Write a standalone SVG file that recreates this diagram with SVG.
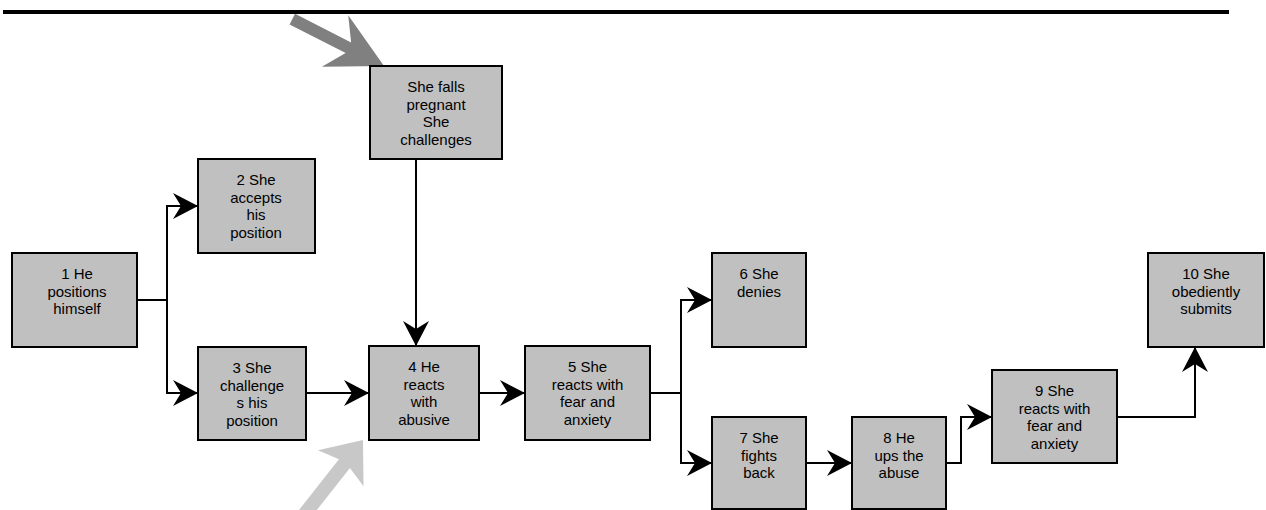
<svg xmlns="http://www.w3.org/2000/svg" width="1266" height="510" viewBox="0 0 1266 510">
<style>
.box{fill:#c0c0c0;stroke:#000;stroke-width:2}
.t{font-family:"Liberation Sans",Arial,sans-serif;font-size:15px;fill:#000;text-anchor:middle}
.c{fill:none;stroke:#000;stroke-width:2;marker-end:url(#ah)}
.cn{fill:none;stroke:#000;stroke-width:2}
</style>
<defs>
<marker id="ah" markerUnits="userSpaceOnUse" markerWidth="26" markerHeight="26" viewBox="0 0 26 26" refX="25" refY="13" orient="auto">
<path d="M25,13 L0,0 L8,13 L0,26 Z" fill="#000"/>
</marker>
</defs>
<rect width="1266" height="510" fill="#fff"/>
<line x1="3" y1="12" x2="1229" y2="12" stroke="#000" stroke-width="4"/>
<g id="pointer-dark">
<polygon points="0,0 -55,-29 -40,-6 -103,-6 -103,6 -40,6 -55,29" fill="#808080" transform="translate(384,66) rotate(27.1)"/>
</g>
<g id="pointer-light">
<polygon points="0,0 -36,-29 -30,-7 -110,-7 -110,7 -30,7 -36,29" fill="#c8c8c8" transform="translate(363,440) rotate(-51.8)"/>
</g>
<g id="connectors">
<polyline class="cn" points="137,300 167,300"/>
<polyline class="c" points="167,300 167,206 198,206"/>
<polyline class="c" points="167,300 167,393 198,393"/>
<polyline class="c" points="306,393 369,393"/>
<polyline class="c" points="416,159 416,346"/>
<polyline class="c" points="479,393 525,393"/>
<polyline class="cn" points="650,393 681,393"/>
<polyline class="c" points="681,393 681,300 712,300"/>
<polyline class="c" points="681,393 681,463 712,463"/>
<polyline class="c" points="806,463 852,463"/>
<polyline class="c" points="946,463 961,463 961,417 992,417"/>
<polyline class="c" points="1117,417 1195,417 1195,347"/>
</g>
<g id="n1"><rect class="box" x="12" y="253" width="125" height="94"/>
<text class="t" x="77" y="279">1 He</text><text class="t" x="77" y="296.7">positions</text><text class="t" x="77" y="314.4">himself</text></g>
<g id="n2"><rect class="box" x="198" y="159" width="117" height="94"/>
<text class="t" x="256" y="185">2 She</text><text class="t" x="256" y="202.7">accepts</text><text class="t" x="256" y="220.4">his</text><text class="t" x="256" y="238.1">position</text></g>
<g id="n3"><rect class="box" x="198" y="347" width="108" height="93"/>
<text class="t" x="252" y="373">3 She</text><text class="t" x="252" y="390.7">challenge</text><text class="t" x="252" y="408.4">s his</text><text class="t" x="252" y="426.1">position</text></g>
<g id="np"><rect class="box" x="370" y="66" width="132" height="93"/>
<text class="t" x="436" y="92">She falls</text><text class="t" x="436" y="109.7">pregnant</text><text class="t" x="436" y="127.4">She</text><text class="t" x="436" y="145.1">challenges</text></g>
<g id="n4"><rect class="box" x="369" y="346" width="110" height="94"/>
<text class="t" x="424" y="372">4 He</text><text class="t" x="424" y="389.7">reacts</text><text class="t" x="424" y="407.4">with</text><text class="t" x="424" y="425.1">abusive</text></g>
<g id="n5"><rect class="box" x="525" y="346" width="125" height="94"/>
<text class="t" x="587.5" y="372">5 She</text><text class="t" x="587.5" y="389.7">reacts with</text><text class="t" x="587.5" y="407.4">fear and</text><text class="t" x="587.5" y="425.1">anxiety</text></g>
<g id="n6"><rect class="box" x="712" y="253" width="94" height="94"/>
<text class="t" x="759" y="279">6 She</text><text class="t" x="759" y="296.7">denies</text></g>
<g id="n7"><rect class="box" x="712" y="417" width="94" height="92"/>
<text class="t" x="759" y="443">7 She</text><text class="t" x="759" y="460.7">fights</text><text class="t" x="759" y="478.4">back</text></g>
<g id="n8"><rect class="box" x="852" y="417" width="94" height="92"/>
<text class="t" x="899" y="443">8 He</text><text class="t" x="899" y="460.7">ups the</text><text class="t" x="899" y="478.4">abuse</text></g>
<g id="n9"><rect class="box" x="992" y="370" width="125" height="93"/>
<text class="t" x="1054.5" y="396">9 She</text><text class="t" x="1054.5" y="413.7">reacts with</text><text class="t" x="1054.5" y="431.4">fear and</text><text class="t" x="1054.5" y="449.1">anxiety</text></g>
<g id="n10"><rect class="box" x="1148" y="253" width="116" height="94"/>
<text class="t" x="1206" y="279">10 She</text><text class="t" x="1206" y="296.7">obediently</text><text class="t" x="1206" y="314.4">submits</text></g>
</svg>
